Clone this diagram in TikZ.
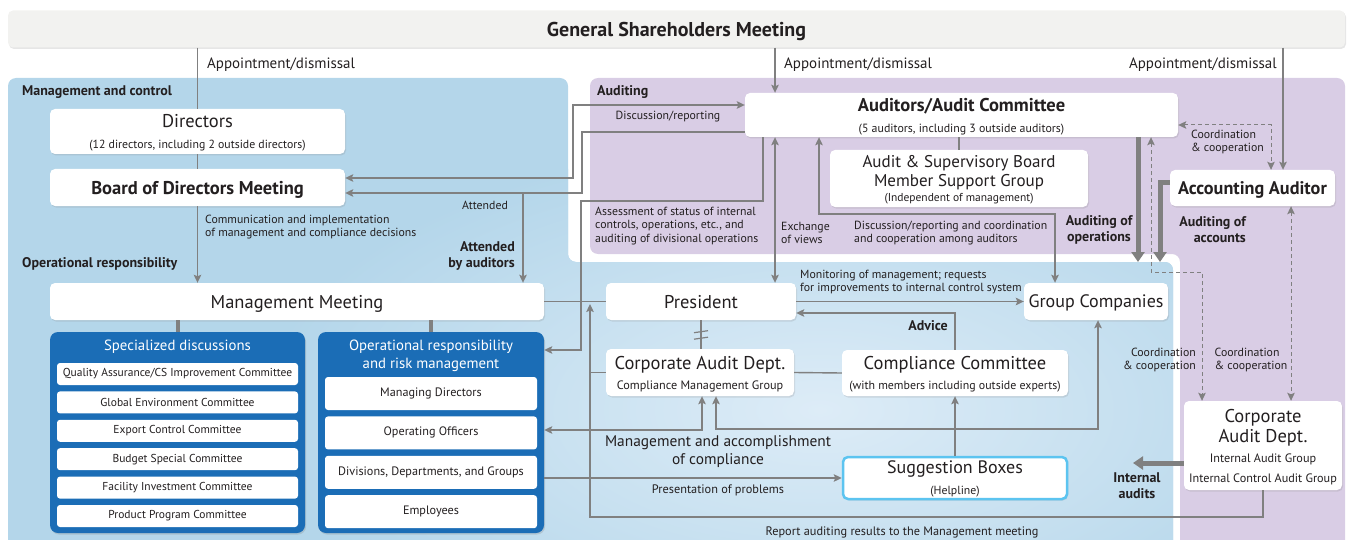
\documentclass[tikz,border=0pt]{standalone}
\usepackage{fontspec}
\setmainfont{PT Sans}
\usepackage{xcolor}
\definecolor{panelblue}{HTML}{B4D6EA}
\definecolor{panelglow}{HTML}{DDECF7}
\definecolor{panelviolet}{HTML}{D9CDE5}
\definecolor{bargray}{HTML}{F2F2F0}
\definecolor{deepblue}{HTML}{1B6DB6}
\definecolor{wiregray}{HTML}{808080}
\definecolor{ink}{HTML}{231F20}
\definecolor{helpcyan}{HTML}{5CC4F0}
\usepackage{tikz}
\usetikzlibrary{arrows.meta, positioning, calc, shadows}

\newcommand{\fsize}[2]{\fontsize{#1}{#2}\selectfont}

\begin{document}
\begin{tikzpicture}[x=1pt, y=-1pt, text=ink,
  wbox/.style={fill=white, rounded corners=5pt, align=center, inner sep=0pt, text depth=0pt,
    drop shadow={shadow xshift=1pt, shadow yshift=-1.5pt, opacity=0.2}},
  darkbox/.style={fill=deepblue, rounded corners=8pt, inner sep=0pt,
    drop shadow={shadow xshift=1pt, shadow yshift=-1.5pt, opacity=0.25}},
  darktitle/.style={text=white, align=center, inner sep=0pt, font=\fsize{14.8}{18}},
  itembox/.style={fill=white, rounded corners=3pt, minimum width=241pt, minimum height=22pt,
    inner sep=0pt, font=\fsize{11.5}{13}},
  opsitem/.style={fill=white, rounded corners=3pt, minimum width=212pt, minimum height=33pt,
    inner sep=0pt, font=\fsize{12.2}{14}},
  link/.style={draw=wiregray, line width=1.4pt},
  arrow/.style={link, -{Stealth[length=8pt, width=7.5pt, inset=1.5pt]}},
  biarrow/.style={link, {Stealth[length=8pt, width=7.5pt, inset=1.5pt]}-{Stealth[length=8pt, width=7.5pt, inset=1.5pt]}},
  dasharrow/.style={biarrow, line width=1pt, dash pattern=on 4pt off 3pt},
  fatarrow/.style={draw=wiregray, line width=5pt, -{Triangle[length=10pt, width=13pt]}},
  stub/.style={draw=wiregray, line width=4pt},
  note/.style={inner sep=0pt, font=\fsize{11.8}{13.5}},
  boldnote/.style={inner sep=0pt, font=\fsize{14}{16}\bfseries},
  appt/.style={inner sep=0pt, font=\fsize{15}{17}}]
  \useasboundingbox (0,0) rectangle (1348,540);

  % Panels
  \fill[panelblue, rounded corners=8pt] (8,550) -- (8,78) -- (568,78) -- (568,262) -- (1173,262) -- (1173,550) -- cycle;
  \begin{scope}
    \clip[rounded corners=8pt] (8,550) -- (8,78) -- (568,78) -- (568,262) -- (1173,262) -- (1173,550) -- cycle;
    \shade[inner color=panelglow, outer color=panelblue] (820,410) ellipse [x radius=560, y radius=270];
  \end{scope}
  \fill[panelviolet, rounded corners=8pt] (590,254) -- (590,78) -- (1345,78) -- (1345,550) -- (1180,550) -- (1180,254) -- cycle;

  % Shareholders
  \node[wbox, fill=bargray, minimum width=1337pt, minimum height=37pt, font=\fsize{20}{22}\bfseries] (gsm) at (676.5,29) {General Shareholders Meeting};

  % Management and control
  \node[wbox, minimum width=295pt, minimum height=45pt, font=\fsize{18.5}{21}] (dirs) at (197.5,131.5)
    {Directors\\{\fsize{11.8}{13}(12 directors, including 2 outside directors)}};
  \node[wbox, minimum width=295pt, minimum height=37pt, font=\fsize{18.5}{21}\bfseries] (bod) at (197.5,187.5) {Board of Directors Meeting};
  \node[wbox, minimum width=494pt, minimum height=37pt, font=\fsize{18.5}{21}] (mm) at (297,301.5) {Management Meeting};

  % Specialized discussions
  \node[darkbox, minimum width=255pt, minimum height=201pt] (spec) at (177.5,432.5) {};
  \node[darktitle] (spect) at (177.5,347) {Specialized discussions};
  \node[itembox] (q1) at (177.5,374) {Quality Assurance/CS Improvement Committee};
  \node[itembox, below=6pt of q1] (q2) {Global Environment Committee};
  \node[itembox, below=6pt of q2] (q3) {Export Control Committee};
  \node[itembox, below=6pt of q3] (q4) {Budget Special Committee};
  \node[itembox, below=6pt of q4] (q5) {Facility Investment Committee};
  \node[itembox, below=6pt of q5] (q6) {Product Program Committee};

  % Operational responsibility
  \node[darkbox, minimum width=226pt, minimum height=201pt] (ops) at (431,432.5) {};
  \node[darktitle] (opst) at (431,356) {Operational responsibility\\and risk management};
  \node[opsitem] (o1) at (431,393.5) {Managing Directors};
  \node[opsitem, below=6pt of o1] (o2) {Operating Officers};
  \node[opsitem, below=6pt of o2] (o3) {Divisions, Departments, and Groups};
  \node[opsitem, below=6pt of o3] (o4) {Employees};

  % Compliance area
  \node[wbox, minimum width=190pt, minimum height=37pt, font=\fsize{18.5}{21}] (pres) at (701,301.5) {President};
  \node[wbox, minimum width=188pt, minimum height=47pt, font=\fsize{18.5}{20}] (cad) at (700,372.5)
    {Corporate Audit Dept.\\{\fsize{12.2}{14}Compliance Management Group}};
  \node[wbox, minimum width=226pt, minimum height=46pt, font=\fsize{18.5}{20}] (comp) at (955,373)
    {Compliance Committee\\{\fsize{11.9}{13}(with members including outside experts)}};
  \node[wbox, draw=helpcyan, line width=2.5pt, minimum width=224pt, minimum height=42pt, font=\fsize{18}{21}] (sugg) at (955,478)
    {Suggestion Boxes\\{\fsize{11.8}{13}(Helpline)}};
  \node[wbox, minimum width=144pt, minimum height=37pt, font=\fsize{18}{21}] (grp) at (1096,301.5) {Group Companies};

  % Auditing
  \node[wbox, minimum width=433pt, minimum height=44pt, font=\fsize{18.5}{21}\bfseries] (aud) at (961.5,115)
    {Auditors/Audit Committee\\{\mdseries\fsize{11.9}{13}(5 auditors, including 3 outside auditors)}};
  \node[wbox, minimum width=258pt, minimum height=57pt, font=\fsize{17}{18.5}] (asb) at (959,178.5)
    {Audit \& Supervisory Board\\Member Support Group\\[-3pt]{\fsize{11.5}{13}(Independent of management)}};
  \node[wbox, minimum width=165pt, minimum height=36pt, font=\fsize{18.2}{21}\bfseries] (acc) at (1252.5,188) {Accounting Auditor};
  \node[wbox, minimum width=158pt, minimum height=89pt, font=\fsize{18.5}{20}] (cadr) at (1263,445.5)
    {Corporate\\Audit Dept.\\{\fsize{12.2}{14}Internal Audit Group}\\{\fsize{12.2}{14}Internal Control Audit Group}};

  % Panel titles
  \node[boldnote, anchor=west] (mctl) at (22,92) {Management and control};
  \node[boldnote, anchor=west] (oresp) at (22,264) {Operational responsibility};
  \node[boldnote, anchor=west] (audg) at (597,92) {Auditing};

  % Appointment/dismissal
  \draw[link] (gsm.south -| dirs.north) -- (dirs.north);
  \draw[link] (dirs.south) -- (bod.north);
  \draw[arrow] (bod.south) -- (mm.north -| bod.south);
  \draw[arrow] (gsm.south -| 775,0) -- (aud.north -| 775,0);
  \draw[arrow] (gsm.south -| 1283,0) -- (acc.north -| 1283,0);
  \node[appt, anchor=west] (appt1) at (207,65) {Appointment/dismissal};
  \node[appt, anchor=west] (appt2) at (784,65) {Appointment/dismissal};
  \node[appt, anchor=east] (appt3) at (1277,65) {Appointment/dismissal};
  \node[note, anchor=west, align=left] (comm) at (205,227)
    {Communication and implementation\\of management and compliance decisions};

  % Board and auditors
  \draw[biarrow] ($(bod.east)+(0,-9.5)$) -| (573,105) -- ($(aud.west)+(0,-10)$);
  \node[note] (disc) at (668,117) {Discussion/reporting};
  \draw[arrow] ($(aud.west)+(0,17)$) -| (582,193) -- ($(bod.east)+(0,5.5)$);
  \coordinate (att) at (523,193);
  \draw[arrow] (att) -- (att |- mm.north);
  \node[note] (attd) at (485,205) {Attended};
  \node[boldnote, anchor=east, align=right] (attaud) at (515,256) {Attended\\by auditors};
  \draw[arrow] (aud.south -| 763,0) |- (581,201) |- (ops.east |- 0,350);
  \node[note, anchor=west, align=left] (assess) at (595,226)
    {Assessment of status of internal\\controls, operations, etc., and\\auditing of divisional operations};
  \draw[biarrow] (aud.south -| 775,0) -- (pres.north -| 775,0);
  \node[note, anchor=west, align=left] (exch) at (781,233) {Exchange\\of views};
  \draw[link] (asb.north |- aud.south) -- (asb.north);
  \draw[biarrow] (aud.south -| 819,0) |- (1055,214) -- (grp.north -| 1055,0);
  \node[note, anchor=west, align=left] (among) at (854,233)
    {Discussion/reporting and coordination\\and cooperation among auditors};

  % Audits of operations and accounts
  \draw[fatarrow] (aud.south -| 1138,0) -- (1138,262);
  \node[boldnote, align=center] (audops) at (1099,230) {Auditing of\\operations};
  \draw[fatarrow] ($(acc.west)+(0,-5)$) -| (1160,262);
  \node[boldnote, anchor=east, align=right] (audacc) at (1246,230) {Auditing of\\accounts};
  \draw[dasharrow] ($(aud.east)+(0,10)$) -| (acc.north -| 1271,0);
  \node[note, anchor=west, align=left] (coop1) at (1191,142) {Coordination\\\& cooperation};
  \draw[dasharrow] (aud.south -| 1151,0) |- (1202,272) -- (cadr.north -| 1202,0);
  \node[note, anchor=east, align=right] (coop2) at (1196,360) {Coordination\\\& cooperation};
  \draw[dasharrow] (acc.south -| 1291,0) -- (cadr.north -| 1291,0);
  \node[note, align=left] (coop3) at (1251,360) {Coordination\\\& cooperation};
  \draw[fatarrow] ($(cadr.west)+(0,17.5)$) -- (1133,463);
  \node[boldnote, align=center] (intaud) at (1137,486) {Internal\\audits};

  % Report line
  \draw[arrow] (cadr.south) |- (590,517) -- (590,304);
  \draw[link] (cad.west) -- (cad.west -| 590,0);
  \node[inner sep=0pt, font=\fsize{12.3}{14}] (report) at (902,532) {Report auditing results to the Management meeting};

  % Management and compliance links
  \draw[stub] (mm.south -| spec.north) -- (spec.north);
  \draw[stub] (mm.south -| ops.north) -- (ops.north);
  \draw[link] (mm.east) -- (pres.west);
  \draw[arrow] (pres.east) -- (grp.west);
  \node[note, anchor=west, align=left] (monit) at (800,282)
    {Monitoring of management; requests\\for improvements to internal control system};
  \draw[arrow] (comp.north) |- ($(pres.east)+(0,11.5)$);
  \node[boldnote] (advice) at (928,326) {Advice};
  \draw[link] (pres.south) -- (pres.south |- cad.north);
  \draw[link, line width=1.2pt] ($(pres.south)+(-7,12.5)$) -- ($(pres.south)+(7,10.5)$);
  \draw[link, line width=1.2pt] ($(pres.south)+(-7,19)$) -- ($(pres.south)+(7,17)$);
  \draw[link] (cad.east) -- (comp.west);
  \draw[biarrow] (cad.south -| 702,0) |- (ops.east |- 0,430);
  \draw[biarrow] (cad.south -| 716,0) |- (1098,429) -- (grp.south -| 1098,0);
  \node[inner sep=0pt, align=center, font=\fsize{15.4}{18}] (mgmtc) at (718,452) {Management and accomplishment\\of compliance};
  \draw[arrow] (sugg.north) -- (comp.south);
  \draw[arrow] (ops.east |- sugg.west) -- (sugg.west);
  \node[note, font=\fsize{12.3}{14}] (present) at (718,490) {Presentation of problems};
\end{tikzpicture}
\end{document}
